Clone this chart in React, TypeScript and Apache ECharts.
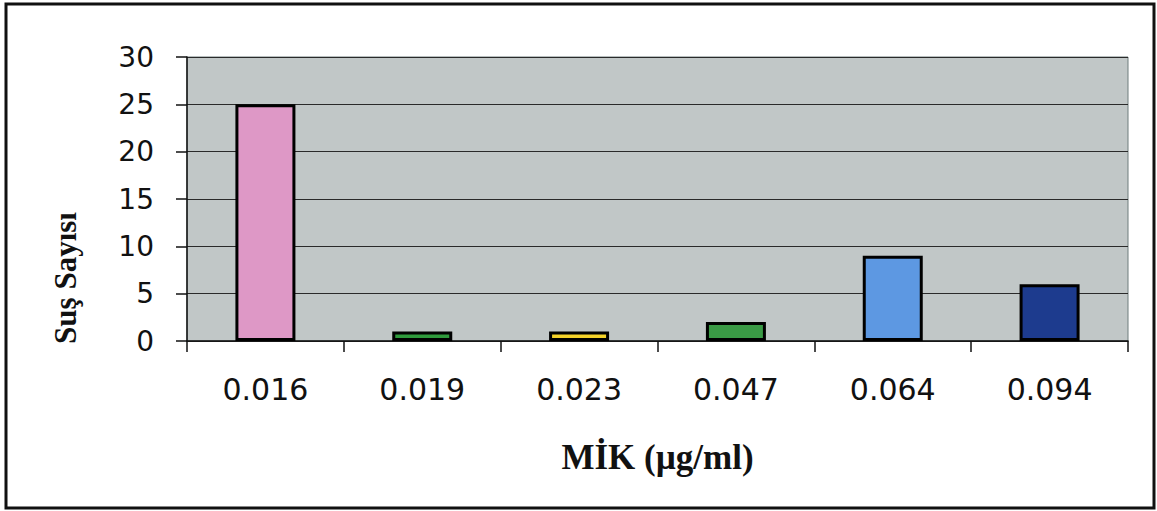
import React, { useEffect, useRef } from "react";
import * as echarts from "echarts";

const categories = ["0.016", "0.019", "0.023", "0.047", "0.064", "0.094"];
const values = [25, 1, 1, 2, 9, 6];
const barColors = ["#de98c6", "#2f9a3c", "#f3d22a", "#3a9a45", "#5d98e2", "#1d3b8e"];
const yTicks = [0, 5, 10, 15, 20, 25, 30];
const xTitle = "MİK (µg/ml)";
const yTitle = "Suş Sayısı";

export default function App() {
  const ref = useRef<HTMLDivElement>(null);
  useEffect(() => {
    if (!ref.current) return;
    const chart = echarts.init(ref.current, null, { renderer: "svg" });
    chart.setOption({
      animation: false,
      backgroundColor: "#ffffff",
      grid: {
        left: 187,
        right: 29,
        top: 57,
        bottom: 170,
        show: true,
        backgroundColor: "#c1c7c7",
        borderColor: "#6f7d7d",
        borderWidth: 1,
      },
      xAxis: {
        type: "category",
        data: categories,
        boundaryGap: true,
        axisLine: { show: true, lineStyle: { color: "#111", width: 1.5 } },
        axisTick: { show: true, length: 11, inside: false, lineStyle: { color: "#111", width: 1.5 } },
        axisLabel: {
          margin: 33,
          fontSize: 30,
          fontFamily: "DejaVu Sans",
          color: "#111",
        },
        name: xTitle,
        nameLocation: "middle",
        nameGap: 99,
        nameTextStyle: {
          fontSize: 35,
          fontWeight: "bold",
          fontFamily: "Liberation Serif",
          color: "#111",
        },
      },
      yAxis: {
        type: "value",
        min: yTicks[0],
        max: yTicks[yTicks.length - 1],
        interval: 5,
        axisLine: { show: true, lineStyle: { color: "#111", width: 1.5 } },
        axisTick: { show: true, length: 11, lineStyle: { color: "#111", width: 1.5 } },
        splitLine: { show: true, lineStyle: { color: "#2a2a2a", width: 1 } },
        axisLabel: {
          margin: 33,
          fontSize: 28,
          fontFamily: "DejaVu Sans",
          color: "#111",
        },
      },
      series: [
        {
          type: "bar",
          barWidth: 60,
          data: values.map((v, i) => ({
            value: v,
            itemStyle: { color: barColors[i], borderColor: "#000", borderWidth: 3 },
          })),
        },
      ],
      graphic: [
        {
          type: "rect",
          shape: { x: 6, y: 4, width: 1148, height: 504 },
          style: { fill: "none", stroke: "#111", lineWidth: 3 },
          silent: true,
        },
        {
          type: "text",
          x: 65,
          y: 278,
          rotation: Math.PI / 2,
          style: {
            text: yTitle,
            x: 0,
            y: 0,
            align: "center",
            verticalAlign: "middle",
            fontSize: 31,
            fontWeight: "bold",
            fontFamily: "Liberation Serif",
            fill: "#111",
          },
          silent: true,
        },
      ],
    });
    return () => chart.dispose();
  }, []);
  return (
    <div
      ref={ref}
      style={{ position: "fixed", left: 0, top: 0, width: 1157, height: 511 }}
    />
  );
}
